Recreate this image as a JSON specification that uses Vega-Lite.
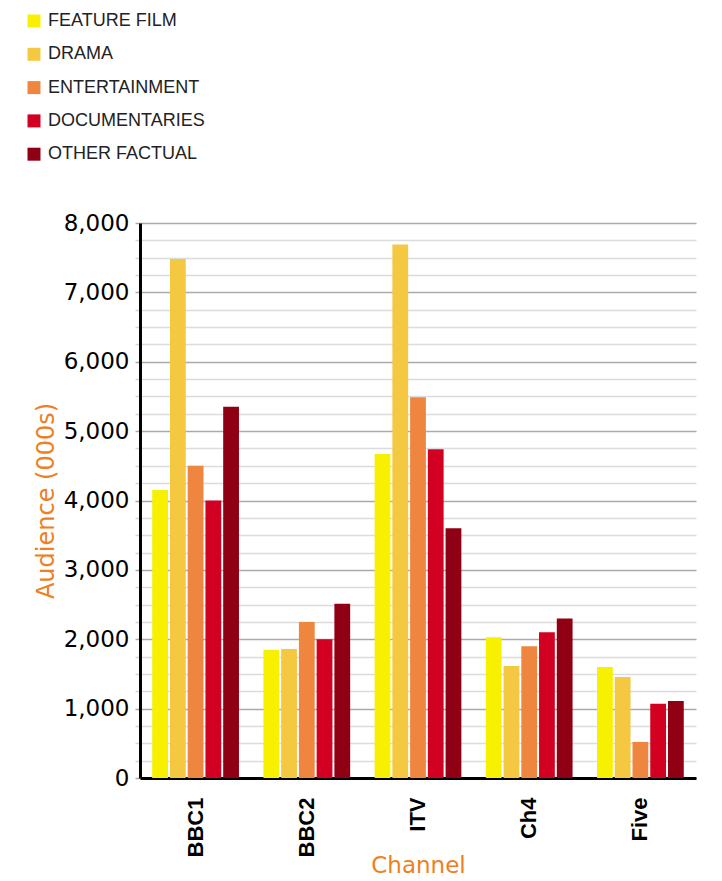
{
  "$schema": "https://vega.github.io/schema/vega-lite/v6.json",
  "autosize": {"type": "none"},
  "padding": {"left": 140, "top": 223, "right": 26, "bottom": 103},
  "width": 556,
  "height": 555,
  "background": "white",
  "config": {"view": {"stroke": null}},
  "data": {
    "values": [
      {"channel": "BBC1", "genre": "FEATURE FILM", "audience": 4150},
      {"channel": "BBC1", "genre": "DRAMA", "audience": 7480},
      {"channel": "BBC1", "genre": "ENTERTAINMENT", "audience": 4500},
      {"channel": "BBC1", "genre": "DOCUMENTARIES", "audience": 4000},
      {"channel": "BBC1", "genre": "OTHER FACTUAL", "audience": 5350},
      {"channel": "BBC2", "genre": "FEATURE FILM", "audience": 1850},
      {"channel": "BBC2", "genre": "DRAMA", "audience": 1860},
      {"channel": "BBC2", "genre": "ENTERTAINMENT", "audience": 2250},
      {"channel": "BBC2", "genre": "DOCUMENTARIES", "audience": 2000},
      {"channel": "BBC2", "genre": "OTHER FACTUAL", "audience": 2510},
      {"channel": "ITV", "genre": "FEATURE FILM", "audience": 4670},
      {"channel": "ITV", "genre": "DRAMA", "audience": 7690},
      {"channel": "ITV", "genre": "ENTERTAINMENT", "audience": 5490},
      {"channel": "ITV", "genre": "DOCUMENTARIES", "audience": 4740},
      {"channel": "ITV", "genre": "OTHER FACTUAL", "audience": 3600},
      {"channel": "Ch4", "genre": "FEATURE FILM", "audience": 2030},
      {"channel": "Ch4", "genre": "DRAMA", "audience": 1615},
      {"channel": "Ch4", "genre": "ENTERTAINMENT", "audience": 1900},
      {"channel": "Ch4", "genre": "DOCUMENTARIES", "audience": 2100},
      {"channel": "Ch4", "genre": "OTHER FACTUAL", "audience": 2300},
      {"channel": "Five", "genre": "FEATURE FILM", "audience": 1600},
      {"channel": "Five", "genre": "DRAMA", "audience": 1455},
      {"channel": "Five", "genre": "ENTERTAINMENT", "audience": 520},
      {"channel": "Five", "genre": "DOCUMENTARIES", "audience": 1070},
      {"channel": "Five", "genre": "OTHER FACTUAL", "audience": 1110}
    ]
  },
  "mark": {"type": "bar"},
  "encoding": {
    "x": {
      "field": "channel",
      "type": "nominal",
      "sort": ["BBC1", "BBC2", "ITV", "Ch4", "Five"],
      "scale": {"paddingInner": 0.22, "paddingOuter": 0.11},
      "axis": {
        "title": "Channel",
        "titleColor": "#EE7F22",
        "titleFont": "DejaVu Sans",
        "titleFontSize": 23,
        "titleFontWeight": "normal",
        "titleY": 87,
        "titleBaseline": "middle",
        "labelAngle": -90,
        "labelAlign": "right",
        "labelBaseline": "middle",
        "labelFont": "Liberation Sans",
        "labelFontWeight": "bold",
        "labelFontSize": 22,
        "labelColor": "#000000",
        "labelPadding": 19,
        "ticks": false,
        "domainColor": "#000000",
        "domainWidth": 3
      }
    },
    "xOffset": {
      "field": "genre",
      "type": "nominal",
      "sort": ["FEATURE FILM", "DRAMA", "ENTERTAINMENT", "DOCUMENTARIES", "OTHER FACTUAL"],
      "scale": {"paddingInner": 0.11, "paddingOuter": 0}
    },
    "y": {
      "field": "audience",
      "type": "quantitative",
      "scale": {"domain": [0, 8000], "nice": false},
      "axis": {
        "title": "Audience (000s)",
        "titleColor": "#EE7F22",
        "titleFont": "DejaVu Sans",
        "titleFontSize": 24,
        "titleFontWeight": "normal",
        "titlePadding": 5,
        "values": [0, 250, 500, 750, 1000, 1250, 1500, 1750, 2000, 2250, 2500, 2750, 3000, 3250, 3500, 3750, 4000, 4250, 4500, 4750, 5000, 5250, 5500, 5750, 6000, 6250, 6500, 6750, 7000, 7250, 7500, 7750, 8000],
        "labelExpr": "datum.value % 1000 === 0 ? format(datum.value, ',') : ''",
        "labelFont": "DejaVu Sans",
        "labelFontSize": 23,
        "labelColor": "#000000",
        "labelPadding": 6,
        "tickSize": 5,
        "tickWidth": 1.5,
        "tickColor": {"condition": {"test": "datum.value % 1000 === 0", "value": "#aaaaaa"}, "value": "#d6d6d6"},
        "grid": true,
        "gridWidth": 1.5,
        "gridColor": {"condition": {"test": "datum.value % 1000 === 0", "value": "#aaaaaa"}, "value": "#dcdcdc"},
        "domainColor": "#000000",
        "domainWidth": 3
      }
    },
    "color": {
      "field": "genre",
      "type": "nominal",
      "scale": {
        "domain": ["FEATURE FILM", "DRAMA", "ENTERTAINMENT", "DOCUMENTARIES", "OTHER FACTUAL"],
        "range": ["#F7F000", "#F5C842", "#EE8640", "#D20021", "#900014"]
      },
      "legend": {
        "title": null,
        "orient": "none",
        "legendX": -115,
        "legendY": -211,
        "padding": 0,
        "symbolType": "square",
        "symbolSize": 169,
        "symbolStrokeWidth": 0,
        "symbolOpacity": 1,
        "labelFont": "Liberation Sans",
        "labelFontSize": 18,
        "labelColor": "#222222",
        "labelOffset": 5,
        "rowPadding": 15.3
      }
    }
  }
}
